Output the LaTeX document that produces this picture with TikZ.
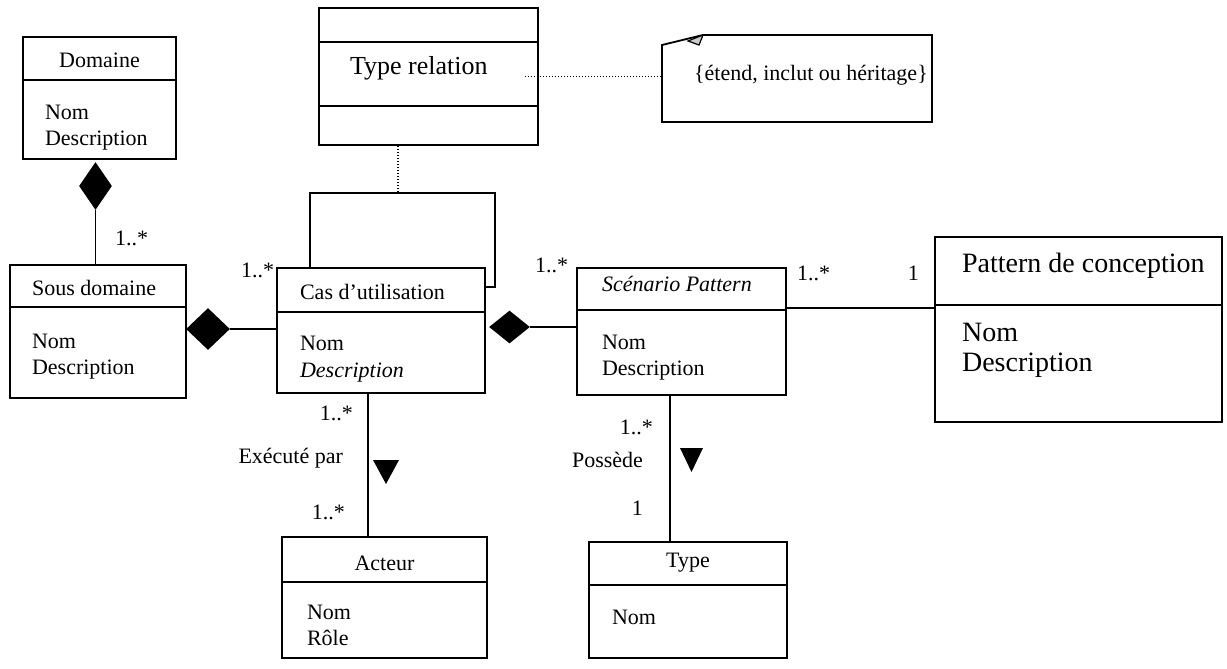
\documentclass[tikz,border=0pt]{standalone}
\usepackage{fontspec}
\setmainfont{Liberation Serif}
\usetikzlibrary{shapes.geometric}

\begin{document}
\begin{tikzpicture}[x=0.5pt,y=-0.5pt]
	\useasboundingbox (0,0) rectangle (1227,669);
	\tikzstyle{classe}=[draw, line width=0.9pt, inner sep=0pt];
	\tikzstyle{trait}=[line width=0.9pt];
	\tikzstyle{lien}=[line width=0.75pt];
	\tikzstyle{losange}=[diamond, fill=black, inner sep=0pt];
	\tikzstyle{pointille}=[line width=0.7pt, dash pattern=on 0.6pt off 0.9pt];
	\tikzstyle{grand}=[font=\fontsize{14}{16}\selectfont];
	\tikzstyle{moyen}=[font=\fontsize{13}{15}\selectfont];
	\tikzstyle{every node}=[font=\fontsize{11}{13}\selectfont];

	\path (99.5,98) node[classe, minimum width=76.5pt, minimum height=61pt] (dom) {};
	\path (98,331.5) node[classe, minimum width=88pt, minimum height=66.5pt] (sous) {};
	\path (381,330.5) node[classe, minimum width=104pt, minimum height=62.5pt] (cas) {};
	\path (681.5,331.5) node[classe, minimum width=104.5pt, minimum height=63.5pt] (scen) {};
	\path (1078.5,329.5) node[classe, minimum width=143.5pt, minimum height=92.5pt] (pat) {};
	\path (384.5,597.5) node[classe, minimum width=102.5pt, minimum height=60.5pt] (act) {};
	\path (688,600) node[classe, minimum width=99pt, minimum height=58pt] (type) {};
	\path (428.5,76.5) node[classe, minimum width=109.5pt, minimum height=68.5pt] (rel) {};

	\draw[trait] (dom.west |- 0,80) -- (dom.east |- 0,80);
	\draw[trait] (sous.west |- 0,307) -- (sous.east |- 0,307);
	\draw[trait] (cas.west |- 0,312) -- (cas.east |- 0,312);
	\draw[trait] (scen.west |- 0,310) -- (scen.east |- 0,310);
	\draw[trait] (pat.west |- 0,305) -- (pat.east |- 0,305);
	\draw[trait] (act.west |- 0,582) -- (act.east |- 0,582);
	\draw[trait] (type.west |- 0,585) -- (type.east |- 0,585);
	\draw[trait] (rel.west |- 0,42) -- (rel.east |- 0,42);
	\draw[trait] (rel.west |- 0,106) -- (rel.east |- 0,106);

	\draw[trait] (662,45) -- (703,35) -- (932,35) -- (932,122) -- (662,122) -- cycle;
	\draw[line width=0.6pt, fill=gray!40] (688,41) -- (699,45) -- (703,35) -- cycle;
	\path (662,76.5) coordinate (note);
	\path (398,193) coordinate (boucle);

	\path (99.5,67) node[anchor=base] (v0) {Domaine};
	\path (38,119) node[anchor=base west] (v1) {Nom};
	\path (38,145) node[anchor=base west] (v2) {Description};
	\path (25,295) node[anchor=base west] (v3) {Sous domaine};
	\path (25,348) node[anchor=base west] (v4) {Nom};
	\path (25,374) node[anchor=base west] (v5) {Description};
	\path (293,299) node[anchor=base west] (v6) {Cas d'utilisation};
	\path (293,350) node[anchor=base west] (v7) {Nom};
	\path (293,377) node[anchor=base west] (v8) {\itshape Description};
	\path (595,291) node[anchor=base west] (v9) {\itshape Scénario Pattern};
	\path (595,349) node[anchor=base west] (v10) {Nom};
	\path (595,375) node[anchor=base west] (v11) {Description};
	\path (955,272) node[grand, anchor=base west] (v12) {Pattern de conception};
	\path (955,341) node[grand, anchor=base west] (v13) {Nom};
	\path (955,371) node[grand, anchor=base west] (v14) {Description};
	\path (384.5,570) node[anchor=base] (v15) {Acteur};
	\path (300,619) node[anchor=base west] (v16) {Nom};
	\path (300,645) node[anchor=base west] (v17) {Rôle};
	\path (688,567) node[anchor=base] (v18) {Type};
	\path (605,624) node[anchor=base west] (v19) {Nom};
	\path (343,75) node[moyen, anchor=base west] (v20) {Type relation};
	\path (687,80) node[anchor=base west] (v21) {\{étend, inclut ou héritage\}};

	\path (95.5,186) node[losange, minimum width=16.5pt, minimum height=24pt] (d1) {};
	\path (208,329) node[losange, minimum width=22pt, minimum height=21pt] (d2) {};
	\path (509.5,327) node[losange, minimum width=20.5pt, minimum height=16.5pt] (d3) {};

	\draw[lien] (d1.south) -- (sous.north -| d1.south);
	\draw[lien] (d2.east) -- (cas.west |- d2.east);
	\draw[lien] (d3.east) -- (scen.west |- d3.east);
	\draw[lien] (scen.east |- 0,308) -- (pat.west |- 0,308);
	\draw[lien] (cas.south -| 368,0) -- (act.north -| 368,0);
	\draw[lien] (scen.south -| 670,0) -- (type.north -| 670,0);
	\draw[lien] (cas.north -| 310,0) |- (boucle) -- (495,193) |- (cas.east |- 0,287);
	\draw[pointille] (rel.south -| boucle) -- (boucle);
	\draw[pointille] ([xshift=-7pt]rel.east) -- (note);

	\fill (373,460) -- (399,460) -- (386,484) -- cycle;
	\fill (680,448) -- (703,448) -- (691.5,472) -- cycle;

	\path (108,245) node[anchor=base west] (m1) {1..*};
	\path (234,277) node[anchor=base west] (m2) {1..*};
	\path (528,272) node[anchor=base west] (m3) {1..*};
	\path (790,280) node[anchor=base west] (m4) {1..*};
	\path (926,280) node[anchor=base east] (m5) {1};
	\path (360,420) node[anchor=base east] (m6) {1..*};
	\path (350,463) node[anchor=base east] (m7) {Exécuté par};
	\path (352,519) node[anchor=base east] (m8) {1..*};
	\path (660,434) node[anchor=base east] (m9) {1..*};
	\path (650,467) node[anchor=base east] (m10) {Possède};
	\path (650,515) node[anchor=base east] (m11) {1};
\end{tikzpicture}
\end{document}
